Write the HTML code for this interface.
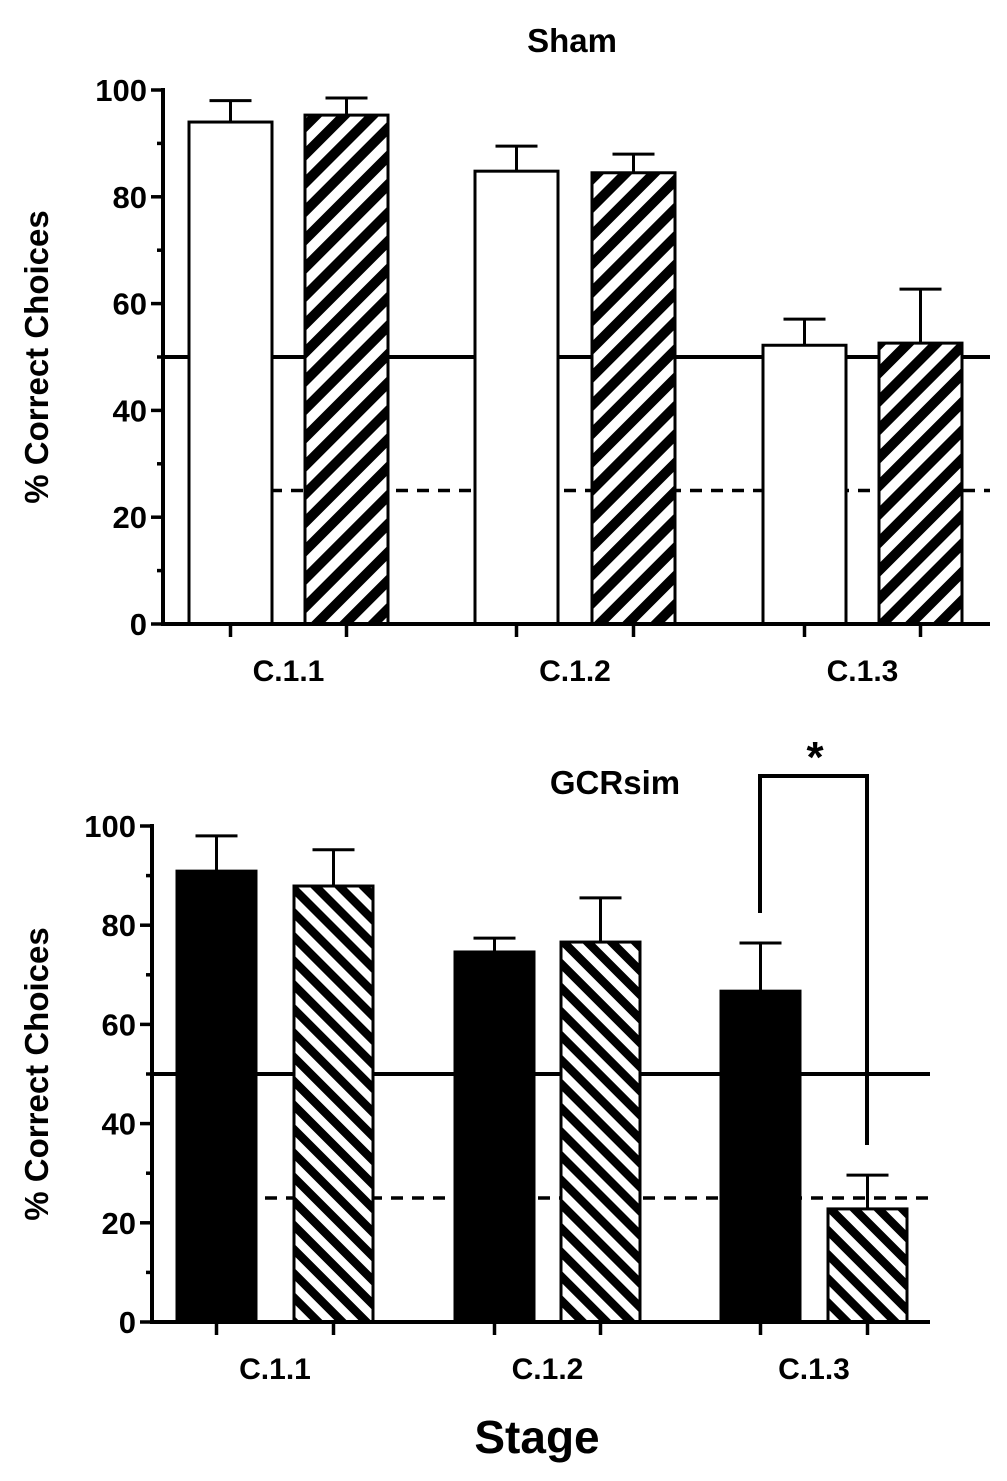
<!DOCTYPE html>
<html><head><meta charset="utf-8"><style>
html,body{margin:0;padding:0;background:#fff;width:1007px;height:1481px;overflow:hidden}
svg text{font-family:"Liberation Sans",Arial,sans-serif;font-weight:bold;fill:#000}
</style></head><body>
<svg id="c" width="1007" height="1481" viewBox="0 0 1007 1481" xmlns="http://www.w3.org/2000/svg">
<defs>
<pattern id="hUp" patternUnits="userSpaceOnUse" width="20" height="20" patternTransform="rotate(45)"><rect width="20" height="20" fill="#fff"/><rect width="10" height="20" fill="#000"/></pattern>
<pattern id="hDn" patternUnits="userSpaceOnUse" width="17" height="17" patternTransform="rotate(-45)"><rect width="17" height="17" fill="#fff"/><rect width="8.5" height="17" fill="#000"/></pattern>
</defs>
</svg>
<script>
const categories=["C.1.1","C.1.2","C.1.3"];
const yTicks=[0,20,40,60,80,100];
const shamA=[94.0,84.8,52.2];
const shamAErr=[4.0,4.7,4.9];
const shamB=[95.3,84.5,52.6];
const shamBErr=[3.2,3.5,10.1];
const gcrA=[90.9,74.6,66.7];
const gcrAErr=[7.1,2.8,9.7];
const gcrB=[87.9,76.6,22.8];
const gcrBErr=[7.3,8.9,6.8];
const chanceLines=[50,25];
const svg=document.getElementById('c');
const NS='http://www.w3.org/2000/svg';
function el(t,a,p){const e=document.createElementNS(NS,t);for(const k in a)e.setAttribute(k,a[k]);(p||svg).appendChild(e);return e;}
function panel(cfg){
  const g=el('g',{});
  
  
  const y=v=>cfg.y0-(cfg.y0-cfg.y100)*v/100;
  // reference lines (behind bars)
  const l1=el('line',{x1:cfg.ax0,x2:cfg.lineEnd,y1:y(chanceLines[0]),y2:y(chanceLines[0]),stroke:'#000','stroke-width':4},g);
  
  
  const l2=el('line',{x1:cfg.dashStart,x2:cfg.lineEnd,y1:y(chanceLines[1]),y2:y(chanceLines[1]),stroke:'#000','stroke-width':3.5,'stroke-dasharray':'12 9'},g);
  
  
  for(let i=0;i<categories.length;i++){
    [[cfg.a,cfg.aErr,cfg.ax[i],cfg.aFill],[cfg.b,cfg.bErr,cfg.bx[i],cfg.bFill]].forEach((s,j)=>{
      const v=s[0][i],er=s[1][i],x=s[2],w=cfg.bw;
      const cx=x+w/2;
      const eb=el('line',{x1:cx,x2:cx,y1:y(v),y2:y(v+er),stroke:'#000','stroke-width':3},g);
      
      
      const cap=el('line',{x1:cx-21,x2:cx+21,y1:y(v+er),y2:y(v+er),stroke:'#000','stroke-width':3},g);
      
      
      const r=el('rect',{x:x,y:y(v),width:w,height:y(0)-y(v),fill:s[3],stroke:'#000','stroke-width':3},g);
      
      
    });
  }
  const ya=el('line',{x1:cfg.ax0,x2:cfg.ax0,y1:y(100)-2,y2:y(0)+2,stroke:'#000','stroke-width':4},g);
  
  
  const xa=el('line',{x1:cfg.ax0,x2:cfg.xEnd,y1:y(0),y2:y(0),stroke:'#000','stroke-width':4},g);
  
  
  for(let v=0;v<=100;v+=10){
    el('line',{x1:cfg.ax0-(v%20?6:12),x2:cfg.ax0,y1:y(v),y2:y(v),stroke:'#000','stroke-width':3.5},g);
  }
  yTicks.forEach(v=>{
    const t=el('text',{x:cfg.ax0-16,y:y(v)+11,'text-anchor':'end','font-size':31},g);
    t.textContent=v;
    
    
  });
  for(let i=0;i<categories.length;i++){
    [cfg.ax[i]+cfg.bw/2,cfg.bx[i]+cfg.bw/2].forEach(cx=>el('line',{x1:cx,x2:cx,y1:y(0),y2:y(0)+13,stroke:'#000','stroke-width':3.5},g));
    const t=el('text',{x:(cfg.ax[i]+cfg.bx[i]+cfg.bw)/2,y:y(0)+57,'text-anchor':'middle','font-size':30},g);
    t.textContent=categories[i];
    
    
  }
  const yt=el('text',{x:0,y:0,'text-anchor':'middle','font-size':33,transform:`translate(${cfg.ytx},${(y(0)+y(100))/2}) rotate(-90)`},g);
  yt.textContent='% Correct Choices';
  
  
  const tt=el('text',{x:cfg.titleX,y:cfg.titleY,'text-anchor':'middle','font-size':33},g);
  tt.textContent=cfg.title;
  
  
  return y;
}
panel({name:'sham-panel',title:'Sham',titleX:572,titleY:52,y0:624,y100:90,ax0:163,xEnd:990,lineEnd:990,dashStart:270,bw:83,
  ax:[189,475,763],bx:[305,592,879],a:shamA,aErr:shamAErr,b:shamB,bErr:shamBErr,aFill:'#fff',bFill:'url(#hUp)',ytx:48});
panel({name:'gcrsim-panel',title:'GCRsim',titleX:615,titleY:794,y0:1322,y100:826,ax0:152,xEnd:930,lineEnd:930,dashStart:265,bw:79,
  ax:[177,455,721],bx:[294,561,828],a:gcrA,aErr:gcrAErr,b:gcrB,bErr:gcrBErr,aFill:'#000',bFill:'url(#hDn)',ytx:48});
const br=el('polyline',{points:'760,913 760,776 867,776 867,1145',fill:'none',stroke:'#000','stroke-width':4});


const st=el('text',{x:815,y:772,'text-anchor':'middle','font-size':44});
st.textContent='*';


const xt=el('text',{x:537,y:1453,'text-anchor':'middle','font-size':46});
xt.textContent='Stage';


</script>
</body></html>
